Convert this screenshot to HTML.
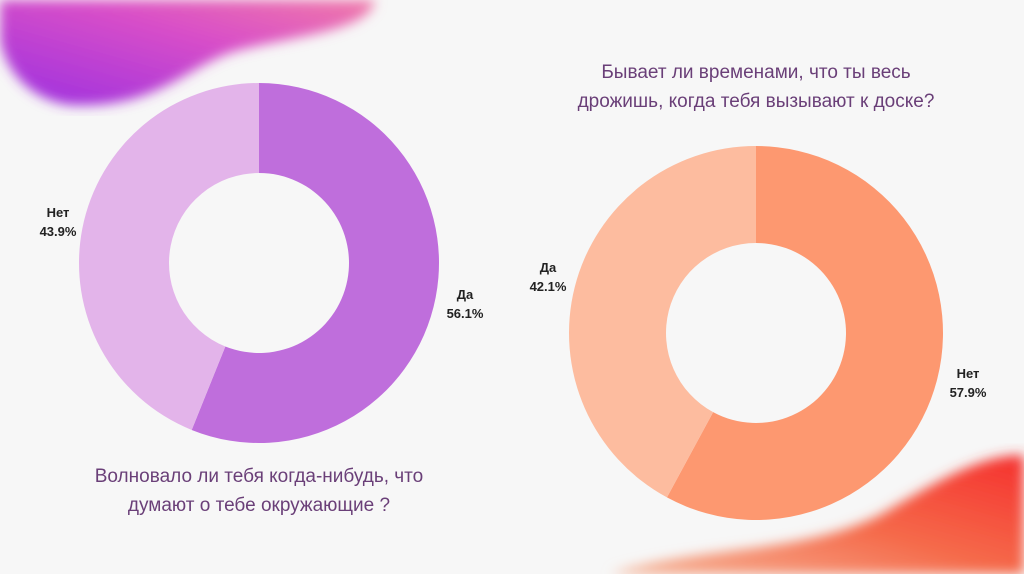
<!DOCTYPE html>
<html><head><meta charset="utf-8"><style>
html,body{margin:0;padding:0;background:#f7f7f7;}
svg{display:block;font-family:"Liberation Sans","Noto Sans CJK SC",sans-serif;}
</style></head><body>
<svg width="1024" height="574" viewBox="0 0 1024 574">
<defs>
<linearGradient id="gp" x1="0" y1="1" x2="1" y2="0"><stop offset="0" stop-color="#9b2fe0"/><stop offset="0.6" stop-color="#d94fc8"/><stop offset="1" stop-color="#f07aa8"/></linearGradient>
<linearGradient id="go" x1="0" y1="1" x2="1" y2="0"><stop offset="0" stop-color="#f6b79a"/><stop offset="0.5" stop-color="#f56a4a"/><stop offset="1" stop-color="#f5302e"/></linearGradient>
<filter id="bl"><feGaussianBlur stdDeviation="6"/></filter>
</defs>
<path filter="url(#bl)" fill="url(#gp)" d="M0,0 L375,0 C370,30 300,35 240,50 C190,62 160,110 70,105 C30,100 5,70 0,40 Z"/>
<path filter="url(#bl)" fill="url(#go)" d="M1024,455 C980,455 940,480 880,515 C800,555 700,545 610,574 L1024,574 Z"/>
<g id="charts"></g>
<text x="756" y="78" text-anchor="middle" font-size="19" fill="#6a3f78">Бывает ли временами, что ты весь</text>
<text x="756" y="107" text-anchor="middle" font-size="19" fill="#6a3f78">дрожишь, когда тебя вызывают к доске?</text>
<text x="259" y="482" text-anchor="middle" font-size="19" fill="#6a3f78">Волновало ли тебя когда-нибудь, что</text>
<text x="259" y="511" text-anchor="middle" font-size="19" fill="#6a3f78">думают о тебе окружающие ?</text>
</svg>
<script>
const leftCategories = ["Да", "Нет"];
const leftValues = [56.1, 43.9];
const rightCategories = ["Нет", "Да"];
const rightValues = [57.9, 42.1];
const charts = [
 {cats:leftCategories, vals:leftValues, cx:259, cy:263, R:180, r:90, colors:["#bf6edc","#e3b4ea"],
  labels:[[465,299,"middle"],[58,217,"middle"]], name:"left"},
 {cats:rightCategories, vals:rightValues, cx:756, cy:333, R:187, r:90, colors:["#fd9870","#fdbc9f"],
  labels:[[968,378,"middle"],[548,272,"middle"]], name:"right"}
];
const ns="http://www.w3.org/2000/svg";
const g=document.getElementById('charts');
function pt(cx,cy,rad,a){return [cx+rad*Math.sin(a), cy-rad*Math.cos(a)];}
charts.forEach(c=>{
 const tot=c.vals.reduce((a,b)=>a+b,0);
 let a0=0;
 c.vals.forEach((v,i)=>{
  const a1=a0+v/tot*2*Math.PI;
  const large=(a1-a0)>Math.PI?1:0;
  const p1=pt(c.cx,c.cy,c.R,a0),p2=pt(c.cx,c.cy,c.R,a1),p3=pt(c.cx,c.cy,c.r,a1),p4=pt(c.cx,c.cy,c.r,a0);
  const p=document.createElementNS(ns,'path');
  p.setAttribute('d',`M${p1[0]},${p1[1]} A${c.R},${c.R} 0 ${large} 1 ${p2[0]},${p2[1]} L${p3[0]},${p3[1]} A${c.r},${c.r} 0 ${large} 0 ${p4[0]},${p4[1]} Z`);
  p.setAttribute('fill',c.colors[i]);
  
  
  g.appendChild(p);
  const L=c.labels[i];
  const t1=document.createElementNS(ns,'text');
  t1.setAttribute('x',L[0]);t1.setAttribute('y',L[1]);t1.setAttribute('text-anchor','middle');
  t1.setAttribute('font-size','13');t1.setAttribute('font-weight','bold');t1.setAttribute('fill','#222');
  t1.textContent=c.cats[i];
  
  
  g.appendChild(t1);
  const t2=document.createElementNS(ns,'text');
  t2.setAttribute('x',L[0]);t2.setAttribute('y',L[1]+19);t2.setAttribute('text-anchor','middle');
  t2.setAttribute('font-size','13');t2.setAttribute('font-weight','bold');t2.setAttribute('fill','#222');
  t2.textContent=v.toFixed(1)+'%';
  
  
  g.appendChild(t2);
  a0=a1;
 });
});
</script>
</body></html>
